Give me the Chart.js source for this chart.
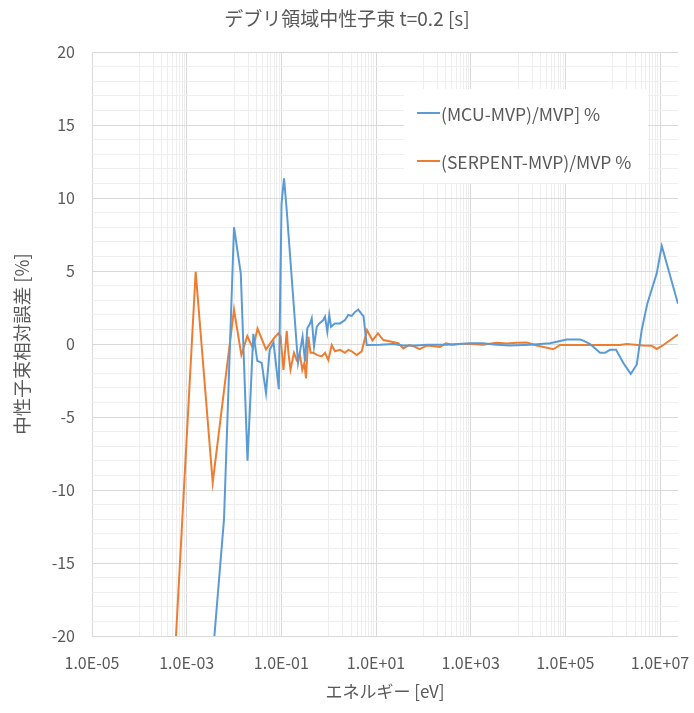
<!DOCTYPE html>
<html>
<head>
<meta charset="utf-8">
<script src="https://cdn.jsdelivr.net/npm/chart.js@4.4.1/dist/chart.umd.min.js"></script>
<style>
    html, body { margin: 0; padding: 0; background: #fff; }
    #wrap { width: 694px; height: 713px; }
</style>
</head>
<body>
<div id="wrap"><canvas id="flux-chart"></canvas></div>
<script>
// ===== Data =====
const mcuEnergy = [1.91e-3, 6.15e-3, 1.0e-2, 1.39e-2, 1.93e-2, 2.56e-2, 3.11e-2, 3.85e-2, 4.74e-2, 5.68e-2,
    6.84e-2, 8.85e-2, 0.101, 0.114, 0.129, 0.225, 0.281, 0.316, 0.354, 0.404,
    0.439, 0.490, 0.560, 0.634, 0.771, 0.838, 0.935, 1.03, 1.12, 1.36,
    1.74, 2.21, 2.60, 3.07, 3.60, 4.23, 4.99, 5.45, 6.37, 12.2,
    22.9, 37.2, 72.4, 118, 312, 970, 1820, 3560, 6790, 17900,
    47500, 65800, 107000, 204000, 240000, 333000, 541000, 690000, 879000, 1.18e6,
    1.68e6, 2.41e6, 3.23e6, 4.11e6, 5.41e6, 8.53e6, 1.09e7, 2.40e7];
const mcuError = [-32, -12.0, 8.0, 4.84, -8.0, 0.7, -1.15, -1.3, -3.35, -0.4,
    0.1, -3.1, 9.6, 11.35, 9.3, -1.3, 0.5, -1.2, 1.07, 1.4,
    1.76, -0.18, 1.18, 1.41, 1.64, 1.87, 0.84, 1.99, 1.18, 1.41,
    1.41, 1.64, 1.99, 1.92, 2.2, 2.35, 2.05, 1.9, -0.07, -0.05,
    0.0, -0.1, -0.1, -0.05, -0.05, 0.05, 0.05, -0.05, -0.1, -0.05,
    0.05, 0.16, 0.3, 0.3, 0.23, 0.0, -0.6, -0.6, -0.4, -0.4,
    -1.3, -2.05, -1.4, 0.96, 2.78, 4.84, 6.71, 2.75];

const serpentEnergy = [3.48e-4, 1.55e-3, 3.55e-3, 6.15e-3, 1.0e-2, 1.43e-2, 1.91e-2, 2.52e-2, 3.14e-2, 4.74e-2,
    7.0e-2, 8.63e-2, 9.62e-2, 0.111, 0.130, 0.141, 0.156, 0.185, 0.211, 0.248,
    0.277, 0.306, 0.332, 0.372, 0.414, 0.474, 0.560, 0.713, 0.838, 0.984,
    1.16, 1.36, 1.74, 2.21, 2.60, 3.07, 3.92, 4.99, 6.46, 8.44,
    11.0, 14.3, 21.5, 29.6, 37.8, 49.9, 61.5, 83.2, 120, 225,
    301, 404, 596, 970, 1820, 3560, 5780, 9400, 15300, 24900,
    55800, 77300, 204000, 391000, 750000, 1.43e6, 1.98e6, 4.45e6, 6.68e6, 8.53e6,
    1.18e7, 2.40e7];
const serpentError = [-34, 4.95, -9.5, -3.2, 2.35, -0.75, 0.55, -0.3, 1.05, -0.37,
    0.4, 0.73, 0.5, -1.78, 0.9, -0.6, -1.75, -0.6, -1.1, -0.75,
    -1.78, -1.3, -2.35, 0.5, -0.6, -0.6, -0.75, -0.85, -0.6, -1.1,
    -0.07, -0.5, -0.4, -0.6, -0.4, -0.5, -0.75, -0.5, 0.96, 0.25,
    0.73, 0.27, 0.16, 0.05, -0.3, -0.07, -0.15, -0.36, -0.1, -0.2,
    0.05, -0.05, 0.0, 0.0, -0.05, 0.09, 0.04, 0.09, 0.1, -0.1,
    -0.36, -0.07, -0.07, -0.07, -0.07, -0.07, 0.0, -0.1, -0.12, -0.34,
    -0.07, 0.65];

const xMajorTicks = [1e-5, 1e-3, 1e-1, 1e1, 1e3, 1e5, 1e7];
const xTickLabels = ['1.0E-05', '1.0E-03', '1.0E-01', '1.0E+01', '1.0E+03', '1.0E+05', '1.0E+07'];
// minor vertical grid: 1..9 x 10^n for the decade just below each labelled tick
const xMinorDecades = [-4, -2, 0, 2, 4, 6];

const FONT = '"Noto Sans CJK JP", "Noto Sans", sans-serif';
const TEXT = '#595959';
const GRID_MAJOR = '#d9d9d9';
const GRID_MINOR = '#eeeeee';

const toPoints = (xs, ys) => xs.map((x, i) => ({ x, y: ys[i] }));

// ===== Legend inside the plot (Excel style) =====
const insideLegend = {
    id: 'insideLegend',
    afterDatasetsDraw(chart) {
        const { ctx } = chart;
        ctx.save();
        ctx.fillStyle = '#fff';
        ctx.fillRect(404, 89, 244, 94);
        ctx.font = `17.5px ${FONT}`;
        ctx.textBaseline = 'middle';
        chart.data.datasets.forEach((ds, i) => {
            const y = 113 + i * 48;
            ctx.strokeStyle = ds.borderColor;
            ctx.lineWidth = 2;
            ctx.beginPath();
            ctx.moveTo(417, y);
            ctx.lineTo(440, y);
            ctx.stroke();
            ctx.fillStyle = TEXT;
            ctx.fillText(ds.label, 441, y + 1);
        });
        ctx.restore();
    }
};

new Chart(document.getElementById('flux-chart'), {
    type: 'line',
    data: {
        datasets: [
            {
                label: '(MCU-MVP)/MVP] %',
                data: toPoints(mcuEnergy, mcuError),
                borderColor: '#5b9bd5',
                borderWidth: 2,
                pointRadius: 0,
                tension: 0,
                fill: false
            },
            {
                label: '(SERPENT-MVP)/MVP %',
                data: toPoints(serpentEnergy, serpentError),
                borderColor: '#ed7d31',
                borderWidth: 2,
                pointRadius: 0,
                tension: 0,
                fill: false
            }
        ]
    },
    options: {
        responsive: true,
        maintainAspectRatio: false,
        animation: false,
        devicePixelRatio: 1,
        layout: { padding: 0 },
        plugins: {
            legend: { display: false },
            tooltip: { enabled: false },
            title: {
                display: true,
                text: 'デブリ領域中性子束 t=0.2 [s]',
                color: TEXT,
                font: { family: FONT, size: 19, weight: 'normal' },
                padding: { top: 7, bottom: 22.2 }
            }
        },
        scales: {
            x: {
                type: 'logarithmic',
                min: 1e-5,
                max: 2.4e7,
                afterBuildTicks: scale => {
                    const ticks = xMajorTicks.map(v => ({ value: v, isMajor: true }));
                    xMinorDecades.forEach(e => {
                        for (let k = 1; k <= 9; k++) ticks.push({ value: k * Math.pow(10, e), isMajor: false });
                    });
                    ticks.sort((a, b) => a.value - b.value);
                    scale.ticks = ticks;
                },
                afterFit: scale => {
                    scale.height = 77;
                    scale.paddingLeft = 0;
                    scale.paddingRight = 16;
                },
                grid: {
                    drawTicks: false,
                    color: ctx => (ctx.tick && ctx.tick.isMajor ? GRID_MAJOR : GRID_MINOR),
                    lineWidth: 1
                },
                border: { display: false },
                ticks: {
                    autoSkip: false,
                    maxRotation: 0,
                    padding: 17,
                    color: TEXT,
                    font: { family: FONT, size: 16 },
                    callback: (value) => {
                        const idx = xMajorTicks.findIndex(v => Math.abs(Math.log10(v) - Math.log10(value)) < 1e-6);
                        return idx >= 0 ? xTickLabels[idx] : '';
                    }
                },
                title: {
                    display: true,
                    text: 'エネルギー [eV]',
                    color: TEXT,
                    font: { family: FONT, size: 17 },
                    padding: { top: 0, bottom: 11 }
                }
            },
            y: {
                min: -20,
                max: 20,
                afterFit: scale => {
                    scale.width = 92;
                    scale.paddingTop = 0;
                    scale.paddingBottom = 0;
                },
                grid: {
                    drawTicks: false,
                    color: ctx => (ctx.tick && ctx.tick.value % 5 === 0 ? GRID_MAJOR : GRID_MINOR),
                    lineWidth: 1
                },
                border: { display: false },
                ticks: {
                    stepSize: 1,
                    autoSkip: false,
                    padding: 17,
                    color: TEXT,
                    font: { family: FONT, size: 16 },
                    callback: v => (v % 5 === 0 ? String(v) : '')
                },
                title: {
                    display: true,
                    text: '中性子束相対誤差 [%]',
                    color: TEXT,
                    font: { family: FONT, size: 18.5 },
                    padding: { top: 11, bottom: 0 }
                }
            }
        }
    },
    plugins: [insideLegend]
});
</script>
</body>
</html>
